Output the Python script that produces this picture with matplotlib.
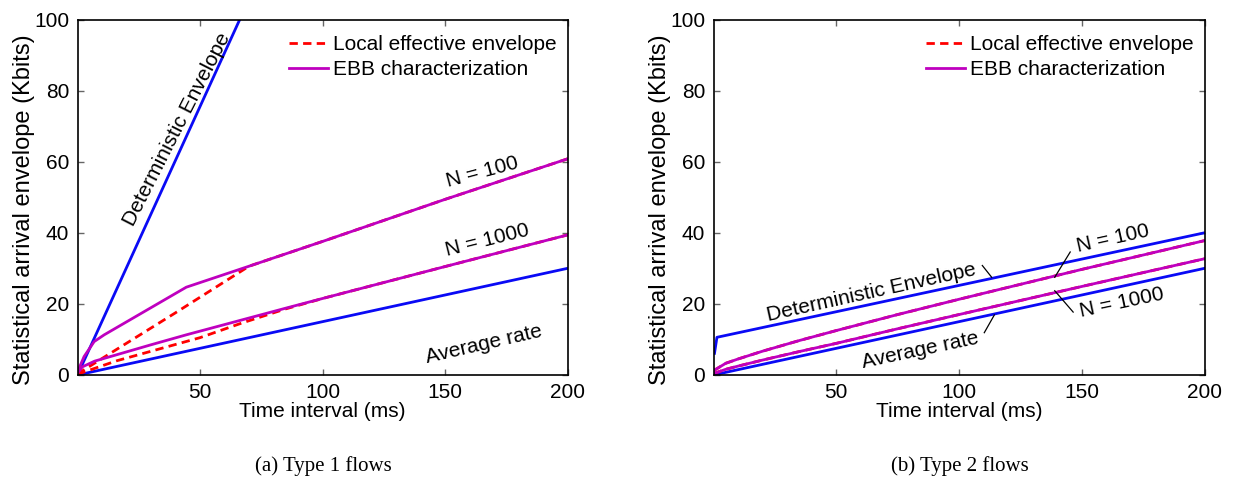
import matplotlib
matplotlib.use('Agg')
import matplotlib.pyplot as plt

plt.rcParams["font.family"] = ['Liberation Sans', 'DejaVu Sans']
plt.rcParams["font.size"] = 15

BLUE = '#0a0af5'
PURPLE = '#bf00bf'
RED = '#ff0000'

# ---- (a) Type 1 flows ----
det1_x = [0, 200]
det1_y = [0, 302]
avg1_x = [0, 200]
avg1_y = [0, 30]

ebb100_1_x = [0, 2.7, 6.8, 10.9, 44.4, 70, 101, 150, 200]
ebb100_1_y = [0.9, 5.2, 9.4, 11.3, 24.7, 30.6, 37.8, 49.4, 60.8]
loc100_1_x = [0, 12, 40, 70, 101, 150, 200]
loc100_1_y = [0.3, 5.5, 17.5, 30.6, 37.8, 49.4, 60.8]

ebb1000_1_x = [0, 2, 7, 15, 30, 44.4, 85, 101, 150, 200]
ebb1000_1_y = [0.5, 2.3, 3.9, 5.5, 8.5, 11.3, 18.8, 21.7, 30.5, 39.4]
loc1000_1_x = [0, 16, 50, 67, 85, 101, 150, 200]
loc1000_1_y = [0.2, 4.0, 10.5, 14.6, 18.6, 21.7, 30.5, 39.4]

# ---- (b) Type 2 flows ----
det2_x = [0.4, 1.4, 200]
det2_y = [6.1, 10.6, 40.0]
avg2_x = [0, 200]
avg2_y = [0, 30]

ebb100_2_x = [0, 5, 10, 20, 35, 50, 75, 100, 150, 200]
ebb100_2_y = [1.2, 3.3, 4.5, 6.7, 9.7, 12.5, 17.0, 21.3, 29.7, 37.8]
ebb1000_2_x = [0, 5, 10, 20, 35, 50, 75, 100, 150, 200]
ebb1000_2_y = [0.4, 1.6, 2.5, 4.2, 6.6, 8.9, 13.0, 17.0, 24.9, 32.7]

xticks = [50, 100, 150, 200]
yticks = [0, 20, 40, 60, 80, 100]

fig = plt.figure(figsize=(12.33, 4.8), dpi=100)
axa = fig.add_axes([77.5 / 1233, 105 / 480, 490 / 1233, 355.5 / 480])
axb = fig.add_axes([713.5 / 1233, 105 / 480, 491 / 1233, 355.5 / 480])

LW = 2.0
DASH = (3, 1.9)


def style(ax):
    ax.set_xlim(0, 200)
    ax.set_ylim(0, 100)
    ax.set_xticks(xticks)
    ax.set_yticks(yticks)
    ax.tick_params(direction='in', length=4, width=1, color='#666666',
                   top=True, right=True, labelsize=15, pad=6)
    for s in ax.spines.values():
        s.set_linewidth(1.2)
    ax.set_xlabel('Time interval (ms)', labelpad=0)
    ax.set_ylabel('Statistical arrival envelope (Kbits)', fontsize=17,
                  labelpad=1)
    ax.yaxis.set_label_coords(-0.086, 0.465)


# panel a
axa.plot(det1_x, det1_y, color=BLUE, lw=LW)
axa.plot(avg1_x, avg1_y, color=BLUE, lw=LW)
axa.plot(loc100_1_x, loc100_1_y, color=RED, lw=LW, dashes=DASH,
         label='Local effective envelope')
axa.plot(loc1000_1_x, loc1000_1_y, color=RED, lw=LW, dashes=DASH)
axa.plot(ebb100_1_x, ebb100_1_y, color=PURPLE, lw=LW,
         label='EBB characterization')
axa.plot(ebb1000_1_x, ebb1000_1_y, color=PURPLE, lw=LW)
style(axa)

axa.text(40.5, 69, 'Deterministic Envelope', rotation=63,
         ha='center', va='center')
axa.text(165.3, 57.2, 'N = 100', rotation=15, ha='center', va='center')
axa.text(167.4, 38.0, 'N = 1000', rotation=14, ha='center', va='center')
axa.text(166, 8.5, 'Average rate', rotation=13, ha='center', va='center')

# panel b
axb.plot(det2_x, det2_y, color=BLUE, lw=LW)
axb.plot(avg2_x, avg2_y, color=BLUE, lw=LW)
axb.plot(ebb100_2_x, ebb100_2_y, color=RED, lw=LW, dashes=DASH,
         label='Local effective envelope')
axb.plot(ebb1000_2_x, ebb1000_2_y, color=RED, lw=LW, dashes=DASH)
axb.plot(ebb100_2_x, ebb100_2_y, color=PURPLE, lw=LW,
         label='EBB characterization')
axb.plot(ebb1000_2_x, ebb1000_2_y, color=PURPLE, lw=LW)
style(axb)

axb.text(64.1, 23.2, 'Deterministic Envelope', rotation=12.5,
         ha='center', va='center')
axb.text(162.7, 38.5, 'N = 100', rotation=12.5, ha='center', va='center')
axb.text(166.5, 20.4, 'N = 1000', rotation=12, ha='center', va='center')
axb.text(84.3, 7.0, 'Average rate', rotation=12, ha='center', va='center')

# leader lines
for (x0, y0, x1, y1) in [(145.3, 34.6, 139.0, 27.5),
                         (146.5, 17.7, 139.0, 23.7),
                         (109.5, 30.8, 113.3, 27.5),
                         (110.3, 11.9, 114.4, 16.9)]:
    axb.plot([x0, x1], [y0, y1], color='black', lw=0.9)

for ax in (axa, axb):
    ax.legend(loc='upper right', bbox_to_anchor=(1.01, 1.0), frameon=False,
              fontsize=15, handlelength=1.85, handletextpad=0.25,
              labelspacing=0.3, borderaxespad=0.45, borderpad=0.3)

fig.text(323 / 1233, 0.029, '(a) Type 1 flows', ha='center', va='center',
         family='Liberation Serif', fontsize=15)
fig.text(960 / 1233, 0.029, '(b) Type 2 flows', ha='center', va='center',
         family='Liberation Serif', fontsize=15)

fig.savefig('out.png', dpi=100)
